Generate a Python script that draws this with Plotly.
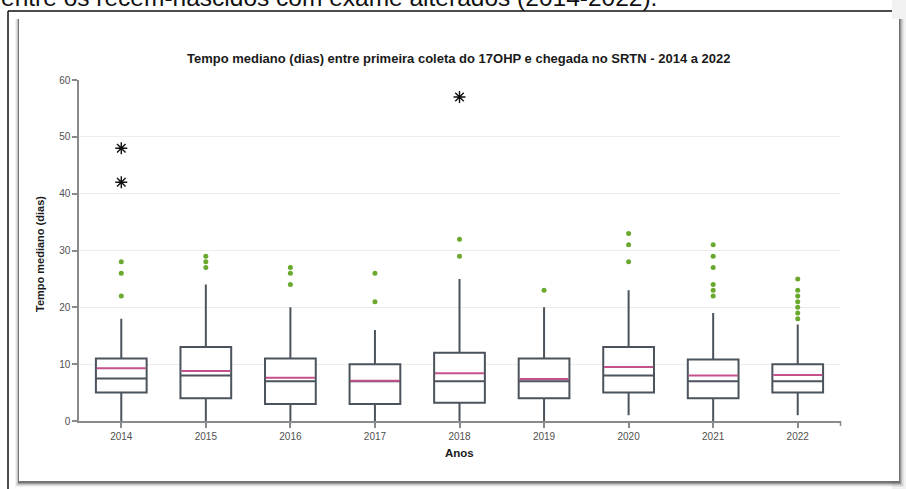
import plotly.graph_objects as go

years = ["2014", "2015", "2016", "2017", "2018", "2019", "2020", "2021", "2022"]
q1 = [5, 4, 3, 3, 3.2, 4, 5, 4, 5]
median = [7.5, 8, 7, 7, 7, 7, 8, 7, 7]
q3 = [11, 13, 11, 10, 12, 11, 13, 10.8, 10]
lowerfence = [0, 0, 0, 0, 0, 0, 1, 0, 1]
upperfence = [18, 24, 20, 16, 25, 20, 23, 19, 17]
mean = [9.3, 8.8, 7.6, 7.1, 8.4, 7.4, 9.5, 8.0, 8.1]

outliers = {
    "2014": [28, 26, 22],
    "2015": [29, 28, 27],
    "2016": [27, 26, 24],
    "2017": [26, 21],
    "2018": [32, 29],
    "2019": [23],
    "2020": [33, 31, 28],
    "2021": [31, 29, 27, 24, 23, 22],
    "2022": [25, 23, 22, 21, 20, 19, 18],
}
extremes = {
    "2014": [48, 42],
    "2018": [57],
}

W, H = 906, 489
L, R, T, B = 79, 840, 80, 421


def px(x):
    return (x - L) / (R - L)


def py(y):
    return (B - y) / (B - T)


BOX = "#4b535c"
PINK = "#c4508c"
GREEN = "#6aa82e"
FONT = "Liberation Sans, Arial"

fig = go.Figure()
fig.add_trace(go.Box(
    x=years, q1=q1, median=median, q3=q3,
    lowerfence=lowerfence, upperfence=upperfence,
    boxpoints=False, width=0.6, whiskerwidth=0,
    fillcolor="white", line=dict(color=BOX, width=2),
    showlegend=False, hoverinfo="skip",
))
fig.add_trace(go.Scatter(
    x=years, y=mean, mode="markers", showlegend=False, hoverinfo="skip",
    marker=dict(symbol="line-ew", size=35, color=PINK,
                line=dict(color=PINK, width=2)),
))
ox, oy = [], []
for k, v in outliers.items():
    ox += [k] * len(v)
    oy += v
fig.add_trace(go.Scatter(
    x=ox, y=oy, mode="markers", showlegend=False, hoverinfo="skip",
    marker=dict(symbol="circle", size=5, color=GREEN),
))
ex, ey = [], []
for k, v in extremes.items():
    ex += [k] * len(v)
    ey += v
fig.add_trace(go.Scatter(
    x=ex, y=ey, mode="markers", showlegend=False, hoverinfo="skip",
    marker=dict(symbol="asterisk-open", size=10, color="#111",
                line=dict(color="#111", width=1.4)),
))
fig.add_trace(go.Scatter(
    x=ex, y=ey, mode="markers", showlegend=False, hoverinfo="skip",
    marker=dict(symbol="square", size=3, color="#111"),
))

shapes = []
# light gray strip at right
shapes.append(dict(type="rect", xref="paper", yref="paper", layer="below",
                   x0=px(892), x1=px(906), y0=py(0), y1=py(489),
                   fillcolor="#f2f2f2", line=dict(width=0)))
# black document frame lines
shapes.append(dict(type="line", xref="paper", yref="paper", layer="below",
                   x0=px(8), x1=px(892), y0=py(11), y1=py(11),
                   line=dict(color="#111", width=1.5)))
shapes.append(dict(type="line", xref="paper", yref="paper", layer="below",
                   x0=px(8), x1=px(8), y0=py(11), y1=py(489),
                   line=dict(color="#111", width=1.5)))
# shadow layers of the embedded image
for (x0, y0, x1, y1, op) in [(15, 19, 904, 487, 0.05), (16, 19, 903, 486, 0.08),
                              (17, 19, 902, 485, 0.12), (18, 19, 901, 484, 0.2),
                              (18, 19, 900, 483, 0.25)]:
    shapes.append(dict(type="rect", xref="paper", yref="paper", layer="below",
                       x0=px(x0), x1=px(x1), y0=py(y1), y1=py(y0),
                       fillcolor="rgba(0,0,0,%.2f)" % op, line=dict(width=0)))
shapes.append(dict(type="rect", xref="paper", yref="paper", layer="below",
                   x0=px(19), x1=px(899), y0=py(481), y1=py(19),
                   fillcolor="white", line=dict(width=0)))
# right-end tick of x axis
shapes.append(dict(type="line", xref="paper", yref="paper", layer="above",
                   x0=px(840.5), x1=px(840.5), y0=py(421), y1=py(426),
                   line=dict(color="#8a8a8a", width=1.5)))

annotations = [
    dict(text="entre os recém-nascidos com exame alterados (2014-2022).",
         xref="paper", yref="paper", x=px(-1), y=py(-3), xanchor="left",
         yanchor="middle", showarrow=False,
         font=dict(family=FONT, size=24.5, color="#111")),
    dict(text="<b>Tempo mediano (dias) entre primeira coleta do 17OHP e chegada no SRTN - 2014 a 2022</b>",
         xref="paper", yref="paper", x=px(459), y=py(58), xanchor="center",
         yanchor="middle", showarrow=False,
         font=dict(family=FONT, size=13, color="#1a1a1a")),
    dict(text="<b>Tempo mediano (dias)</b>",
         xref="paper", yref="paper", x=px(40), y=py(254), xanchor="center",
         yanchor="middle", showarrow=False, textangle=-90,
         font=dict(family=FONT, size=11, color="#1a1a1a")),
    dict(text="<b>Anos</b>",
         xref="paper", yref="paper", x=px(459), y=py(453), xanchor="center",
         yanchor="middle", showarrow=False,
         font=dict(family=FONT, size=11.5, color="#1a1a1a")),
]

fig.update_layout(
    width=W, height=H,
    margin=dict(l=L, r=W - R, t=T, b=H - B, pad=0),
    paper_bgcolor="white", plot_bgcolor="rgba(0,0,0,0)",
    shapes=shapes, annotations=annotations,
    showlegend=False,
    xaxis=dict(type="category", categoryorder="array", categoryarray=years,
               range=[-0.5, 8.5], showgrid=False, zeroline=False,
               showline=True, linecolor="#8a8a8a", linewidth=1.5,
               ticks="outside", ticklen=5, tickcolor="#8a8a8a", tickwidth=1.5,
               tickfont=dict(family=FONT, size=10, color="#505050")),
    yaxis=dict(range=[0, 60], dtick=10, showgrid=True, gridcolor="#ececec",
               gridwidth=1, zeroline=False,
               showline=True, linecolor="#8a8a8a", linewidth=1.5,
               ticks="outside", ticklen=5, tickcolor="#8a8a8a", tickwidth=1.5,
               tickfont=dict(family=FONT, size=10, color="#505050")),
)

fig.write_html(
    "out.html",
    config={"displayModeBar": False},
    post_script="document.documentElement.style.margin='0';document.body.style.margin='0';document.body.style.overflow='hidden';",
)
